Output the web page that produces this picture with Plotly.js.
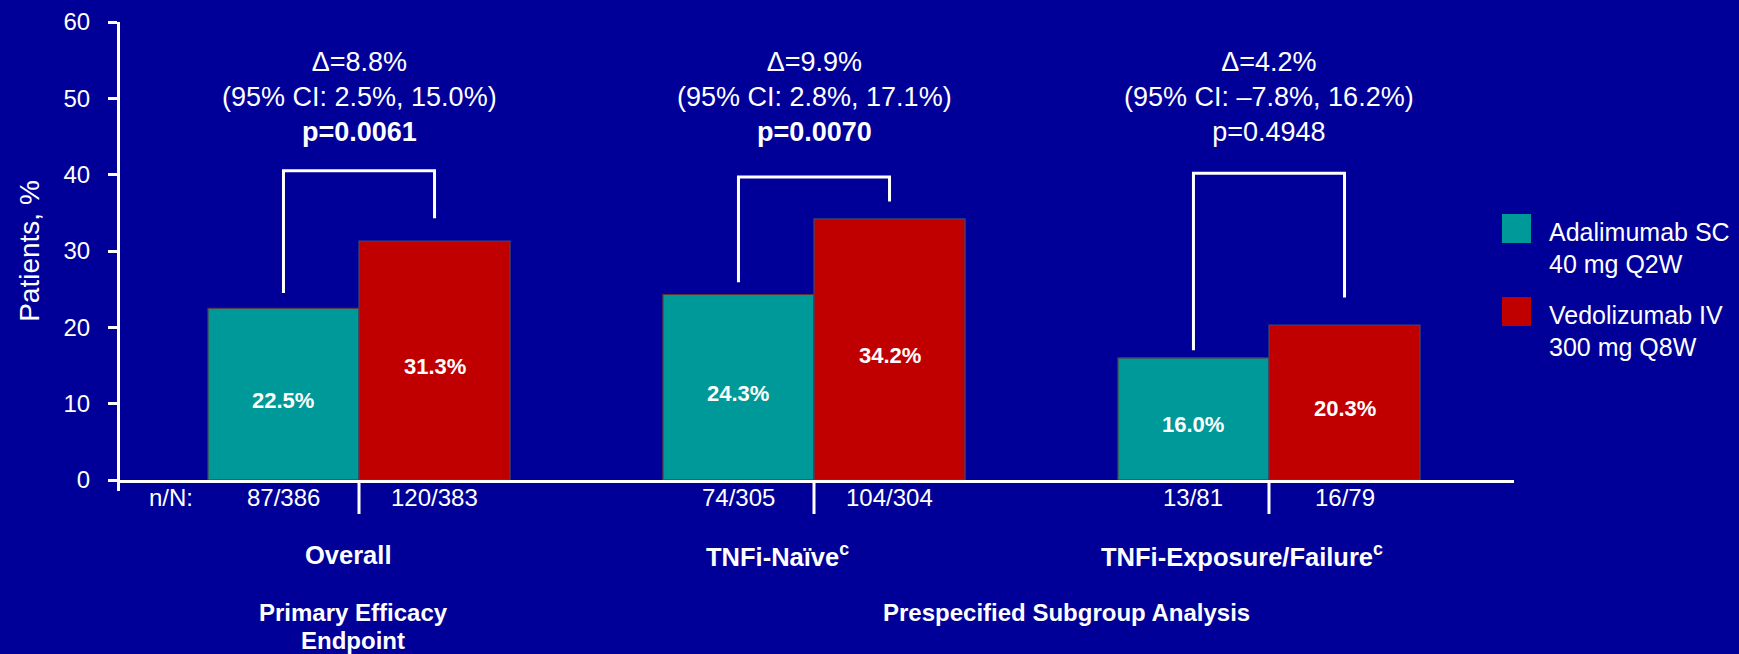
<!DOCTYPE html>
<html>
<head>
<meta charset="utf-8">
<script src="https://cdn.plot.ly/plotly-3.0.1.min.js"></script>
<style>
  html, body { margin: 0; padding: 0; background: #000099; }
  #chart { width: 1739px; height: 654px; }
</style>
</head>
<body>
<div id="chart"></div>
<script>
// ---- data ----
const groups = ['Overall', 'TNFi-Naïve', 'TNFi-Exposure/Failure'];
const groupLabels = ['Overall', 'TNFi-Naïve<sup>c</sup>', 'TNFi-Exposure/Failure<sup>c</sup>'];
const seriesNames = ['Adalimumab SC<br>40 mg Q2W', 'Vedolizumab IV<br>300 mg Q8W'];
const adalimumab = [22.5, 24.3, 16.0];
const vedolizumab = [31.3, 34.2, 20.3];
const adalimumabCounts = ['87/386', '74/305', '13/81'];
const vedolizumabCounts = ['120/383', '104/304', '16/79'];
const deltas = ['Δ=8.8%', 'Δ=9.9%', 'Δ=4.2%'];
const ciTexts = ['(95% CI: 2.5%, 15.0%)', '(95% CI: 2.8%, 17.1%)', '(95% CI: –7.8%, 16.2%)'];
const pValues = ['p=0.0061', 'p=0.0070', 'p=0.4948'];
const significant = [true, true, false];
const sectionTitles = ['Primary Efficacy<br>Endpoint', 'Prespecified Subgroup Analysis'];
const yTicks = [0, 10, 20, 30, 40, 50, 60];

// ---- style ----
const BG = '#000099';
const TEAL = '#009999';
const RED = '#C00000';
const WHITE = '#FFFFFF';
const FONT = '"Liberation Sans", Arial, Helvetica, sans-serif';
const W = 1739, H = 654;
const M = { l: 120, r: 225, t: 22, b: 174 };
const PW = W - M.l - M.r, PH = H - M.t - M.b;
const X_RANGE = [-0.5253, 2.5385];
const BAR_W = 0.332;
// bracket geometry (y values) for each comparison
const bracketTop = [40.5, 39.7, 40.2];
const bracketLeftFoot = [24.5, 25.9, 17.0];
const bracketRightFoot = [34.3, 36.5, 23.9];

// page pixel -> paper fraction
const px2x = px => (px - M.l) / PW;
const px2y = py => (H - M.b - py) / PH;

const xs = groups.map((_, i) => i);

const traces = [
  {
    type: 'bar', name: seriesNames[0], x: xs, y: adalimumab,
    width: BAR_W, offset: -BAR_W,
    marker: { color: TEAL, line: { color: '#5e3338', width: 1.2 } },
    showlegend: false, hoverinfo: 'skip'
  },
  {
    type: 'bar', name: seriesNames[1], x: xs, y: vedolizumab,
    width: BAR_W, offset: 0,
    marker: { color: RED, line: { color: '#3d4770', width: 1.2 } },
    showlegend: false, hoverinfo: 'skip'
  }
];

const shapes = [];
const annotations = [];

// value labels inside each bar, a little below the bar's middle
[[adalimumab, -BAR_W / 2], [vedolizumab, BAR_W / 2]].forEach(([vals, dx]) => {
  vals.forEach((v, i) => {
    annotations.push({
      xref: 'x', yref: 'y', x: i + dx, y: v / 2, yshift: -6, showarrow: false,
      xanchor: 'center', yanchor: 'middle', text: `<b>${v.toFixed(1)}%</b>`,
      font: { family: FONT, size: 22, color: WHITE }
    });
  });
});

// comparison brackets from bar centre to bar centre
xs.forEach(i => {
  const xl = i - BAR_W / 2, xr = i + BAR_W / 2;
  shapes.push({
    type: 'path', xref: 'x', yref: 'y', layer: 'above',
    path: `M ${xl} ${bracketLeftFoot[i]} L ${xl} ${bracketTop[i]} L ${xr} ${bracketTop[i]} L ${xr} ${bracketRightFoot[i]}`,
    line: { color: WHITE, width: 3 }
  });
  // divider tick under the axis between the two bars
  shapes.push({
    type: 'line', xref: 'x', yref: 'paper', x0: i, x1: i, y0: 0, y1: px2y(514),
    line: { color: WHITE, width: 3 }
  });
});

// y-axis line runs a little below the x-axis
shapes.push({
  type: 'line', xref: 'paper', yref: 'paper', x0: px2x(118.5), x1: px2x(118.5), y0: 0, y1: px2y(491),
  line: { color: WHITE, width: 3 }
});

// stats text above each pair
xs.forEach(i => {
  const p = significant[i] ? `<b>${pValues[i]}</b>` : pValues[i];
  annotations.push({
    xref: 'x', yref: 'y', x: i, y: 50.2, showarrow: false,
    xanchor: 'center', yanchor: 'middle', align: 'center',
    text: `${deltas[i]}<br>${ciTexts[i]}<br>${p}`,
    font: { family: FONT, size: 27, color: WHITE }
  });
});

// n/N row
annotations.push({
  xref: 'paper', yref: 'paper', x: px2x(171), y: px2y(497), showarrow: false,
  xanchor: 'center', yanchor: 'middle', text: 'n/N:',
  font: { family: FONT, size: 24, color: WHITE }
});
xs.forEach(i => {
  [[adalimumabCounts[i], i - BAR_W / 2], [vedolizumabCounts[i], i + BAR_W / 2]].forEach(([t, x]) => {
    annotations.push({
      xref: 'x', yref: 'paper', x: x, y: px2y(497), showarrow: false,
      xanchor: 'center', yanchor: 'middle', text: t,
      font: { family: FONT, size: 24, color: WHITE }
    });
  });
});

// group labels
const groupShift = [-11, -37, -27];
xs.forEach(i => {
  annotations.push({
    xref: 'x', yref: 'paper', x: i, xshift: groupShift[i], y: px2y(555), showarrow: false,
    xanchor: 'center', yanchor: 'middle', text: `<b>${groupLabels[i]}</b>`,
    font: { family: FONT, size: 25.5, color: WHITE }
  });
});

// section titles (lines placed one by one for tighter leading)
sectionTitles[0].split('<br>').forEach((line, j) => {
  annotations.push({
    xref: 'paper', yref: 'paper', x: px2x(353), y: px2y(612 + j * 28), showarrow: false,
    xanchor: 'center', yanchor: 'middle', text: `<b>${line}</b>`,
    font: { family: FONT, size: 24, color: WHITE }
  });
});
annotations.push({
  xref: 'paper', yref: 'paper', x: px2x(1066), y: px2y(612), showarrow: false,
  xanchor: 'center', yanchor: 'middle', text: `<b>${sectionTitles[1]}</b>`,
  font: { family: FONT, size: 24, color: WHITE }
});

// legend: swatch + two text lines per series
const legendColors = [TEAL, RED];
const legendTop = [214, 297];
seriesNames.forEach((name, k) => {
  const top = legendTop[k];
  shapes.push({
    type: 'rect', xref: 'paper', yref: 'paper',
    x0: px2x(1502), x1: px2x(1531), y0: px2y(top + 29), y1: px2y(top),
    fillcolor: legendColors[k], line: { width: 0 }
  });
  name.split('<br>').forEach((line, j) => {
    annotations.push({
      xref: 'paper', yref: 'paper', x: px2x(1547), y: px2y(top + 18 + j * 31.5), showarrow: false,
      xanchor: 'left', yanchor: 'middle', text: line,
      font: { family: FONT, size: 25, color: WHITE }
    });
  });
});

const layout = {
  width: W, height: H,
  margin: M,
  paper_bgcolor: BG, plot_bgcolor: BG,
  barmode: 'overlay',
  showlegend: false,
  font: { family: FONT, color: WHITE },
  xaxis: {
    type: 'linear', range: X_RANGE, showgrid: false, zeroline: false,
    showticklabels: false, ticks: '',
    showline: true, linecolor: WHITE, linewidth: 3, fixedrange: true
  },
  yaxis: {
    range: [0, 60], tickvals: yTicks, showgrid: false, zeroline: false,
    showline: true, linecolor: WHITE, linewidth: 3,
    ticks: 'outside', ticklen: 9, tickwidth: 3, tickcolor: WHITE,
    ticklabelstandoff: 13,
    tickfont: { family: FONT, size: 24, color: WHITE },
    title: { text: 'Patients, %', font: { family: FONT, size: 28, color: WHITE }, standoff: 16 },
    fixedrange: true
  },
  shapes: shapes,
  annotations: annotations
};

Plotly.newPlot('chart', traces, layout, { displayModeBar: false, staticPlot: true });
</script>
</body>
</html>
